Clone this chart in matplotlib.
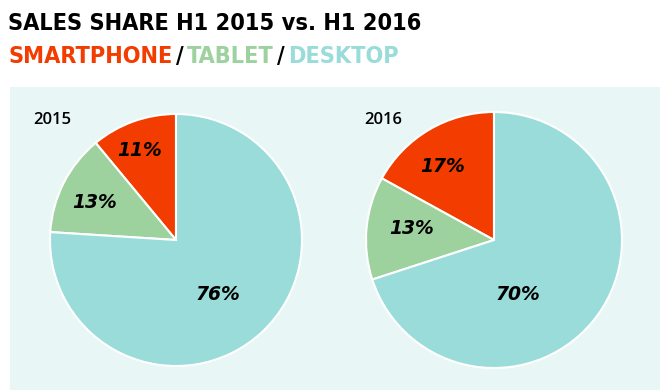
import numpy as np
import matplotlib.pyplot as plt
from matplotlib.patches import Rectangle

# data
segments = ['SMARTPHONE', 'TABLET', 'DESKTOP']
years = ['2015', '2016']
share_2015 = [11, 13, 76]
share_2016 = [17, 13, 70]
colors = ['#f23c00', '#9dd29f', '#99dcd9']

W, H = 664, 390
fig = plt.figure(figsize=(W / 100, H / 100), dpi=100)
ax = fig.add_axes([0, 0, 1, 1])

def py(y):  # pixel y (from top) -> data y
    return H - y

# panel background
ax.add_patch(Rectangle((10, 0), 650, py(87), facecolor='#e8f6f6', edgecolor='none', zorder=0))

pies = [
    (share_2015, (176, py(240)), 126, [(140, 150), (95, 202), (218, 295)], (33, 120)),
    (share_2016, (494, py(240)), 128, [(443, 167), (412, 229), (518, 295)], (364, 120)),
]

for (vals, center, r, lab_pos, ypos), year in zip(pies, years):
    wedges, _ = ax.pie(vals, colors=colors, startangle=90, counterclock=True,
                       center=center, radius=r,
                       wedgeprops=dict(edgecolor='white', linewidth=1.5))
    for v, (lx, ly) in zip(vals, lab_pos):
        ax.text(lx, py(ly), f'{v}%', ha='center', va='center', fontsize=13.5,
                fontweight='heavy', fontstyle='italic', family='DejaVu Sans', color='black')
    ax.text(ypos[0], py(ypos[1]), year, ha='left', va='center', fontsize=12,
            family=['Open Sans', 'DejaVu Sans'], fontweight='semibold', color='black')

ax.set_xlim(0, W)
ax.set_ylim(0, H)
ax.set_aspect('equal')
ax.axis('off')

# title
tfont = dict(family=['DejaVu Sans'], fontstretch='condensed', fontweight='bold', fontsize=16.8)
fig.text(8 / W, 1 - 30 / H, 'SALES SHARE H1 2015 vs. H1 2016', ha='left', va='baseline',
         color='black', **tfont)

prev = fig.text(8 / W, 1 - 63 / H, segments[0], ha='left', va='baseline', color=colors[0], **tfont)
for seg, col in zip(segments[1:], colors[1:]):
    slash = ax.annotate('/', xy=(1, 0), xycoords=prev, xytext=(2.5, 0), textcoords='offset points',
                        ha='left', va='bottom', color='black', **tfont)
    prev = ax.annotate(seg, xy=(1, 0), xycoords=slash, xytext=(2.5, 0), textcoords='offset points',
                       ha='left', va='bottom', color=col, **tfont)

fig.savefig('out.png', dpi=100, facecolor='white')
